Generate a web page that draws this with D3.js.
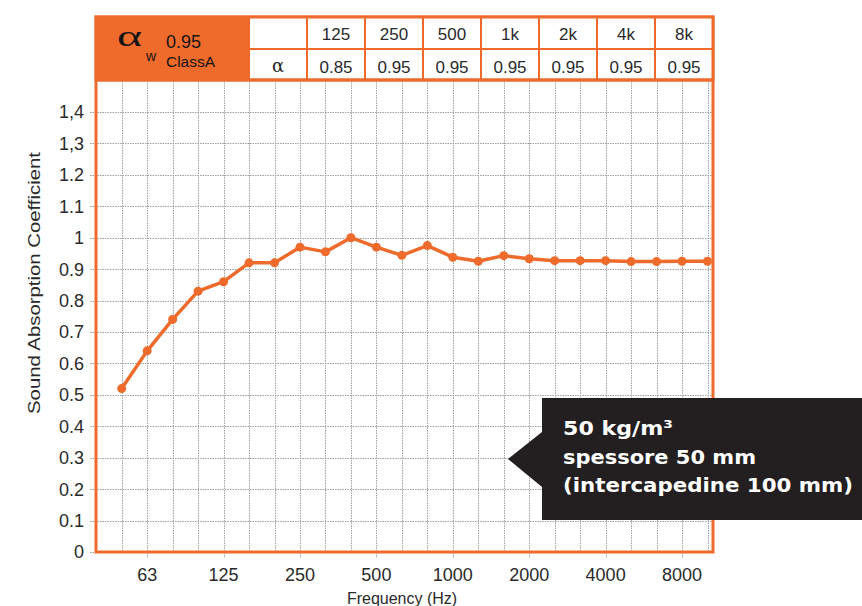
<!DOCTYPE html>
<html><head><meta charset="utf-8">
<script src="https://cdn.jsdelivr.net/npm/d3@7/dist/d3.min.js"></script>
<style>
html,body{margin:0;padding:0;background:#fff;}
svg{display:block;font-family:"Liberation Sans",Arial,Helvetica,sans-serif;}
</style></head>
<body><svg id="chart" width="862" height="606"></svg>
<script>
// ---- data ----
const freqs = ["50","63","80","100","125","160","200","250","315","400","500","630","800","1000","1250","1600","2000","2500","3150","4000","5000","6300","8000","10000"];
const alphaValues = [0.52,0.64,0.74,0.83,0.86,0.92,0.92,0.97,0.955,1.0,0.97,0.944,0.975,0.938,0.925,0.943,0.933,0.927,0.927,0.927,0.924,0.924,0.925,0.925];
const xTickLabels = ["63","125","250","500","1000","2000","4000","8000"];
const yTicks = [0,0.1,0.2,0.3,0.4,0.5,0.6,0.7,0.8,0.9,1,1.1,1.2,1.3,1.4];
const yTickLabels = ["0","0.1","0.2","0.3","0.4","0.5","0.6","0.7","0.8","0.9","1","1.1","1.2","1,3","1,4"];
const tableBands = ["125","250","500","1k","2k","4k","8k"];
const tableAlpha = ["0.85","0.95","0.95","0.95","0.95","0.95","0.95"];
const alphaW = "0.95";
const alphaClass = "ClassA";
const calloutLines = ["50 kg/m³","spessore 50 mm","(intercapedine 100 mm)"];
const calloutWidths = [110, 193, 290];

const ORANGE = "#ef6b2c";
const TXT = "#2a2a2a";
const svg = d3.select("#chart");

const plotLeft = 96, plotRight = 713, plotBottom = 552, gridTop = 80, tableTop = 17;
const x = d3.scalePoint().domain(freqs).range([121.7, 707.5]);
const y = d3.scaleLinear().domain([0, 1.4]).range([plotBottom, 112]);

// grid
const grid = svg.append("g").attr("stroke", "#a0a0a0").attr("stroke-width", 1).attr("stroke-dasharray", "1.5,1");
grid.selectAll("line.h").data(yTicks).join("line")
  .attr("x1", plotLeft - 6).attr("x2", plotRight)
  .attr("y1", d => Math.round(y(d)) + 0.5).attr("y2", d => Math.round(y(d)) + 0.5);
grid.selectAll("line.v").data(freqs).join("line")
  .attr("x1", d => Math.round(x(d)) + 0.5).attr("x2", d => Math.round(x(d)) + 0.5)
  .attr("y1", gridTop).attr("y2", d => xTickLabels.includes(d) ? plotBottom + 6 : plotBottom);

// y labels
svg.append("g").selectAll("text").data(yTicks).join("text")
  .attr("x", 84).attr("y", d => y(d)).attr("dy", "0.36em")
  .attr("text-anchor", "end").attr("font-size", 18).attr("fill", TXT)
  .text((d, i) => yTickLabels[i]);

// x labels
svg.append("g").selectAll("text").data(xTickLabels).join("text")
  .attr("x", d => x(d)).attr("y", 581)
  .attr("text-anchor", "middle").attr("font-size", 18).attr("fill", TXT)
  .text(d => d);

// axis titles
svg.append("text").attr("transform", "translate(40,283) rotate(-90)")
  .attr("text-anchor", "middle").attr("font-size", 17).attr("fill", TXT)
  .attr("textLength", 262).attr("lengthAdjust", "spacingAndGlyphs")
  .text("Sound Absorption Coefficient");
svg.append("text").attr("x", 402).attr("y", 604)
  .attr("text-anchor", "middle").attr("font-size", 16).attr("fill", TXT)
  .text("Frequency (Hz)");

// plot frame
svg.append("rect").attr("x", plotLeft).attr("y", tableTop).attr("width", plotRight - plotLeft).attr("height", plotBottom - tableTop)
  .attr("fill", "none").attr("stroke", ORANGE).attr("stroke-width", 3);

// line + points
svg.append("path").datum(alphaValues)
  .attr("fill", "none").attr("stroke", ORANGE).attr("stroke-width", 3.5).attr("stroke-linejoin", "round")
  .attr("d", d3.line().x((d, i) => x(freqs[i])).y(d => y(d)));
svg.append("g").selectAll("circle").data(alphaValues).join("circle")
  .attr("cx", (d, i) => x(freqs[i])).attr("cy", d => y(d)).attr("r", 4.5).attr("fill", ORANGE);

// header table
const orangeRight = 249, rowMid = 49;
const colW = (plotRight - orangeRight) / (tableBands.length + 1);
const tbl = svg.append("g");
tbl.append("rect").attr("x", plotLeft).attr("y", tableTop).attr("width", orangeRight - plotLeft).attr("height", gridTop - tableTop)
  .attr("fill", ORANGE);
tbl.append("rect").attr("x", orangeRight).attr("y", tableTop).attr("width", plotRight - orangeRight).attr("height", gridTop - tableTop)
  .attr("fill", "#fff");
const colXs = d3.range(tableBands.length + 1).map(i => orangeRight + i * colW);
tbl.selectAll("line.c").data(colXs).join("line")
  .attr("x1", d => d).attr("x2", d => d).attr("y1", tableTop).attr("y2", gridTop)
  .attr("stroke", ORANGE).attr("stroke-width", 2);
tbl.append("line").attr("x1", orangeRight).attr("x2", plotRight).attr("y1", rowMid).attr("y2", rowMid)
  .attr("stroke", ORANGE).attr("stroke-width", 2);
tbl.append("line").attr("x1", plotLeft).attr("x2", plotRight).attr("y1", gridTop).attr("y2", gridTop)
  .attr("stroke", ORANGE).attr("stroke-width", 3);
tbl.append("rect").attr("x", plotLeft).attr("y", tableTop).attr("width", plotRight - plotLeft).attr("height", gridTop - tableTop)
  .attr("fill", "none").attr("stroke", ORANGE).attr("stroke-width", 3);
tbl.selectAll("text.b").data(tableBands).join("text")
  .attr("x", (d, i) => colXs[i + 1] + colW / 2).attr("y", 40)
  .attr("text-anchor", "middle").attr("font-size", 17).attr("fill", TXT).text(d => d);
tbl.selectAll("text.a").data(tableAlpha).join("text")
  .attr("x", (d, i) => colXs[i + 1] + colW / 2).attr("y", 72.5)
  .attr("text-anchor", "middle").attr("font-size", 17).attr("fill", TXT).text(d => d);
tbl.append("text").attr("x", orangeRight + colW / 2).attr("y", 72)
  .attr("text-anchor", "middle").attr("font-size", 18).attr("font-family", "'DejaVu Serif',serif")
  .attr("fill", TXT).text("α");
// alpha_w
tbl.append("text").attr("transform", "translate(117,46) scale(1.65,1)")
  .attr("font-family", "'Liberation Serif','DejaVu Serif',serif")
  .attr("font-size", 29).attr("fill", "#141414").text("α");
tbl.append("text").attr("x", 146).attr("y", 61).attr("font-size", 14).attr("fill", "#141414").text("w");
tbl.append("text").attr("x", 166).attr("y", 48).attr("font-size", 18).attr("fill", "#141414").text(alphaW);
tbl.append("text").attr("x", 166).attr("y", 66.5).attr("font-size", 14).attr("fill", "#141414")
  .attr("textLength", 49).attr("lengthAdjust", "spacingAndGlyphs").text(alphaClass);

// callout
const co = svg.append("g");
co.append("path").attr("fill", "#231f20")
  .attr("d", "M542,398 L862,398 L862,520 L542,520 L542,487 L508,459 L542,432 Z");
co.selectAll("text").data(calloutLines).join("text")
  .attr("x", 563).attr("y", (d, i) => 435 + i * 28.5)
  .attr("font-family", "'DejaVu Sans',sans-serif")
  .attr("font-size", 19.5).attr("font-weight", "bold").attr("fill", "#fff")
  .attr("textLength", (d, i) => calloutWidths[i]).attr("lengthAdjust", "spacingAndGlyphs")
  .text(d => d);
</script></body></html>
